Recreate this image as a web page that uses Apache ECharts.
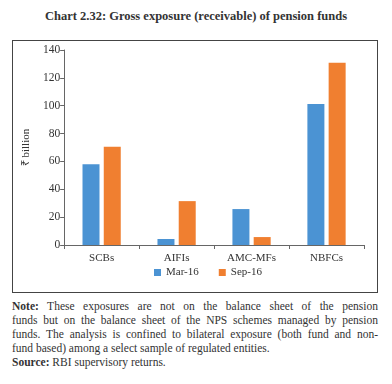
<!DOCTYPE html>
<html><head><meta charset="utf-8">
<script src="https://cdn.jsdelivr.net/npm/echarts@6/dist/echarts.min.js"></script>
<style>
body{margin:0;width:392px;height:384px;background:#fff;font-family:"Liberation Serif",serif;color:#333;position:relative;overflow:hidden}
#title{position:absolute;left:0;top:9px;width:392px;text-align:center;font-weight:bold;font-size:12.5px;color:#333}
#chart{position:absolute;left:12px;top:40px;width:364px;height:251px;border:1px solid #444}
#note{position:absolute;left:12px;top:299px;width:366px;font-size:11.5px;line-height:14px;color:#333}
.j{text-align:justify;text-align-last:justify;white-space:nowrap}
</style></head>
<body>
<div id="title">Chart 2.32: Gross exposure (receivable) of pension funds</div>
<div id="chart"></div>
<div id="note">
<div class="j"><b>Note:</b> These exposures are not on the balance sheet of the pension</div>
<div class="j">funds but on the balance sheet of the NPS schemes managed by pension</div>
<div class="j">funds. The analysis is confined to bilateral exposure (both fund and non-</div>
<div>fund based) among a select sample of regulated entities.</div>
<div><b>Source:</b> RBI supervisory returns.</div>
</div>
<script>
var categories = ["SCBs", "AIFIs", "AMC-MFs", "NBFCs"];
var mar16 = [58, 4.3, 25.8, 101.3];
var sep16 = [70.6, 31.5, 5.7, 130.8];
var yTicks = {min: 0, max: 140, interval: 20};

var chart = echarts.init(document.getElementById('chart'));
var font = "Liberation Serif";
chart.setOption({
  animation: false,
  grid: {left: 49, right: 13, top: 9, bottom: 47},
  legend: {
    data: ["Mar-16", "Sep-16"], bottom: 9, left: 136,
    icon: 'rect', itemWidth: 7, itemHeight: 7, itemGap: 20,
    textStyle: {fontFamily: font, fontSize: 11, color: '#333'}
  },
  xAxis: {
    type: 'category', data: categories,
    axisLine: {lineStyle: {color: '#666', width: 1}},
    axisTick: {show: true, length: 4, lineStyle: {color: '#666'}},
    axisLabel: {fontFamily: font, fontSize: 11, color: '#333', margin: 8}
  },
  yAxis: {
    type: 'value', min: yTicks.min, max: yTicks.max, interval: yTicks.interval,
    name: '₹ billion', nameLocation: 'middle', nameGap: 31,
    nameTextStyle: {fontFamily: font, fontSize: 11, color: '#333'},
    axisLine: {show: true, lineStyle: {color: '#666', width: 1}},
    axisTick: {show: true, length: 4, lineStyle: {color: '#666'}},
    axisLabel: {fontFamily: font, fontSize: 11.5, color: '#333', margin: 4},
    splitLine: {show: false}
  },
  series: [
    {name: 'Mar-16', type: 'bar', data: mar16, barWidth: 17, barGap: '25%', itemStyle: {color: '#4b93d3'}},
    {name: 'Sep-16', type: 'bar', data: sep16, barWidth: 17, itemStyle: {color: '#f07f30'}}
  ]
});
</script>
</body></html>
